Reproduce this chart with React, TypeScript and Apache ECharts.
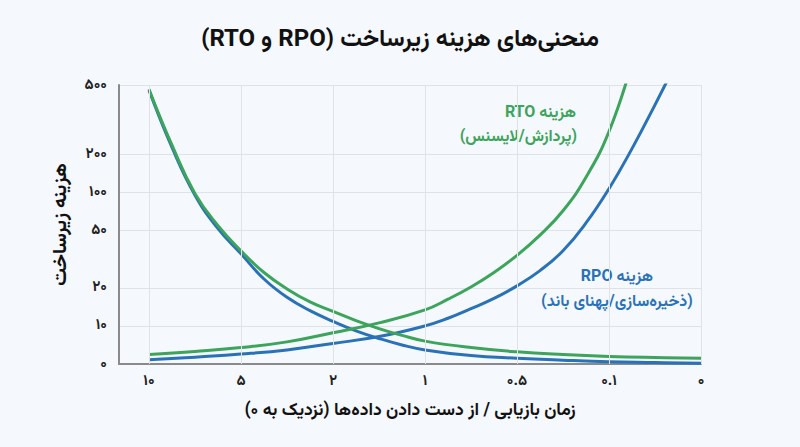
import React, { useEffect, useRef } from "react";
import * as echarts from "echarts";

// ---- data ----
const titleText = "منحنی‌های هزینه زیرساخت (RPO و RTO)";
const xAxisName = "زمان بازیابی / از دست دادن داده‌ها (نزدیک به ۰)";
const yAxisName = "هزینه زیرساخت";

// x: ordinal positions of the recovery-time / data-loss ticks
const xTickPositions = [0, 1, 2, 3, 4, 5, 6];
const xTickLabels = ["۱۰", "۵", "۲", "۱", "۰.۵", "۰.۱", "۰"];

// y: cost ticks and their place on the chart's cost scale
const yTickLevels = [0, 1, 2, 3.5, 4.5, 5.5, 7.32];
const yTickLabels = ["۰", "۱۰", "۲۰", "۵۰", "۱۰۰", "۲۰۰", "۵۰۰"];

// curves: [x position, cost-scale level]
const rtoCostRising = [
  [0, 0.25], [0.5, 0.33], [1, 0.43], [1.5, 0.58], [2, 0.82], [2.5, 1.08],
  [3, 1.42], [3.25, 1.7], [3.5, 2.02], [3.75, 2.4], [4, 2.85], [4.25, 3.38],
  [4.5, 4.02], [4.75, 4.9], [5, 6.1], [5.25, 7.9],
];
const rpoCostRising = [
  [0, 0.11], [0.5, 0.18], [1, 0.26], [1.5, 0.37], [2, 0.54], [2.5, 0.72],
  [3, 1.0], [3.25, 1.2], [3.5, 1.45], [3.75, 1.72], [4, 2.05], [4.25, 2.45],
  [4.5, 2.97], [4.75, 3.7], [5, 4.6], [5.25, 5.65], [5.5, 6.8], [5.75, 8.0],
];
const rtoCostFalling = [
  [0, 7.21], [0.25, 5.74], [0.5, 4.47], [0.75, 3.63], [1, 2.97], [1.25, 2.4],
  [1.5, 1.97], [1.75, 1.63], [2, 1.38], [2.25, 1.14], [2.5, 0.93], [2.75, 0.75],
  [3, 0.6], [3.5, 0.43], [4, 0.32], [4.5, 0.25], [5, 0.2], [5.5, 0.17], [6, 0.15],
];
const rpoCostFalling = [
  [0, 7.18], [0.25, 5.68], [0.5, 4.43], [0.75, 3.55], [1, 2.89], [1.25, 2.23],
  [1.5, 1.75], [1.75, 1.4], [2, 1.12], [2.25, 0.87], [2.5, 0.67], [2.75, 0.5],
  [3, 0.37], [3.5, 0.22], [4, 0.15], [4.5, 0.1], [5, 0.06], [5.5, 0.04], [6, 0.02],
];

const rtoLabelLines = ["هزینه RTO", "(پردازش/لایسنس)"];
const rpoLabelLines = ["هزینه RPO", "(ذخیره‌سازی/پهنای باند)"];

// ---- styles ----
const FONT = 'Vazirmatn, Roboto, "Noto Sans Arabic", "DejaVu Sans", sans-serif';
const GREEN = "#3ca45b";
const BLUE = "#2a72b8";
const BG = "#f5f8fc";
const GRID = "#dfe3e8";
const rtl = (s: string) => "\u202B" + s + "\u202C";

function pick(levels: number[], labels: string[], v: number) {
  const i = levels.findIndex((l) => Math.abs(l - v) < 1e-6);
  return i >= 0 ? labels[i] : "";
}

export default function App() {
  const ref = useRef<HTMLDivElement>(null);
  useEffect(() => {
    if (!ref.current) return;
    const chart = echarts.init(ref.current, undefined, { renderer: "svg" });
    const line = (name: string, data: number[][], color: string, z: number) => ({
      name,
      type: "line",
      data,
      smooth: 0.45,
      showSymbol: false,
      symbol: "none",
      clip: true,
      z,
      lineStyle: { color, width: 3 },
      itemStyle: { color },
    });
    const annot = (x: number, y: number, text: string, fill: string, align: string) => ({
      type: "text",
      x,
      y,
      style: {
        text: rtl(text),
        fill,
        font: `bold 16px ${FONT}`,
        textAlign: align,
        textVerticalAlign: "middle",
      },
    });
    chart.setOption({
      animation: false,
      backgroundColor: BG,
      textStyle: { fontFamily: FONT },
      title: {
        text: rtl(titleText),
        left: "center",
        top: 23,
        textStyle: { fontFamily: FONT, fontSize: 24, fontWeight: "bold", color: "#111" },
      },
      grid: { left: 119, right: 99, top: 85, bottom: 83, containLabel: false },
      xAxis: {
        type: "value",
        min: -0.326,
        max: 6,
        name: rtl(xAxisName),
        nameLocation: "middle",
        nameGap: 37,
        nameTextStyle: { fontFamily: FONT, fontSize: 17.5, fontWeight: "bold", color: "#111" },
        axisLine: { show: true, onZero: false, lineStyle: { color: "#8a8a8a", width: 2 } },
        axisTick: { show: false, customValues: xTickPositions },
        axisLabel: {
          customValues: xTickPositions,
          formatter: (v: number) => pick(xTickPositions, xTickLabels, v),
          fontFamily: FONT,
          fontSize: 15,
          fontWeight: "bold",
          color: "#222",
          margin: 10,
        },
        splitLine: { show: false },
      },
      yAxis: {
        type: "value",
        min: 0,
        max: 7.32,
        name: yAxisName,
        nameLocation: "middle",
        nameRotate: 90,
        nameGap: 48,
        nameTextStyle: { fontFamily: FONT, fontSize: 19.5, fontWeight: "bold", color: "#111" },
        axisLine: { show: true, onZero: false, lineStyle: { color: "#8a8a8a", width: 2 } },
        axisTick: { show: false, customValues: yTickLevels },
        axisLabel: {
          customValues: yTickLevels,
          formatter: (v: number) => pick(yTickLevels, yTickLabels, v),
          fontFamily: FONT,
          fontSize: 15,
          fontWeight: "bold",
          color: "#222",
          margin: 12,
        },
        splitLine: { show: true, lineStyle: { color: GRID, width: 1 } },
      },
      graphic: [
        annot(576, 113, rtoLabelLines[0], GREEN, "right"),
        annot(577, 137, rtoLabelLines[1], GREEN, "right"),
        annot(617, 277, rpoLabelLines[0], BLUE, "center"),
        annot(617, 302, rpoLabelLines[1], BLUE, "center"),
      ],
      series: [
        {
          name: "grid-x",
          type: "line",
          data: [],
          z: 1,
          silent: true,
          markLine: {
            silent: true,
            symbol: "none",
            label: { show: false },
            lineStyle: { color: GRID, width: 1, type: "solid" },
            data: xTickPositions.map((p) => ({ xAxis: p })),
          },
        },
        line("rpo-falling", rpoCostFalling, BLUE, 2),
        line("rto-falling", rtoCostFalling, GREEN, 3),
        line("rpo-rising", rpoCostRising, BLUE, 2),
        line("rto-rising", rtoCostRising, GREEN, 3),
      ],
    });
    return () => chart.dispose();
  }, []);
  return (
    <div
      ref={ref}
      style={{ position: "fixed", left: 0, top: 0, width: 800, height: 447, background: BG }}
    />
  );
}
